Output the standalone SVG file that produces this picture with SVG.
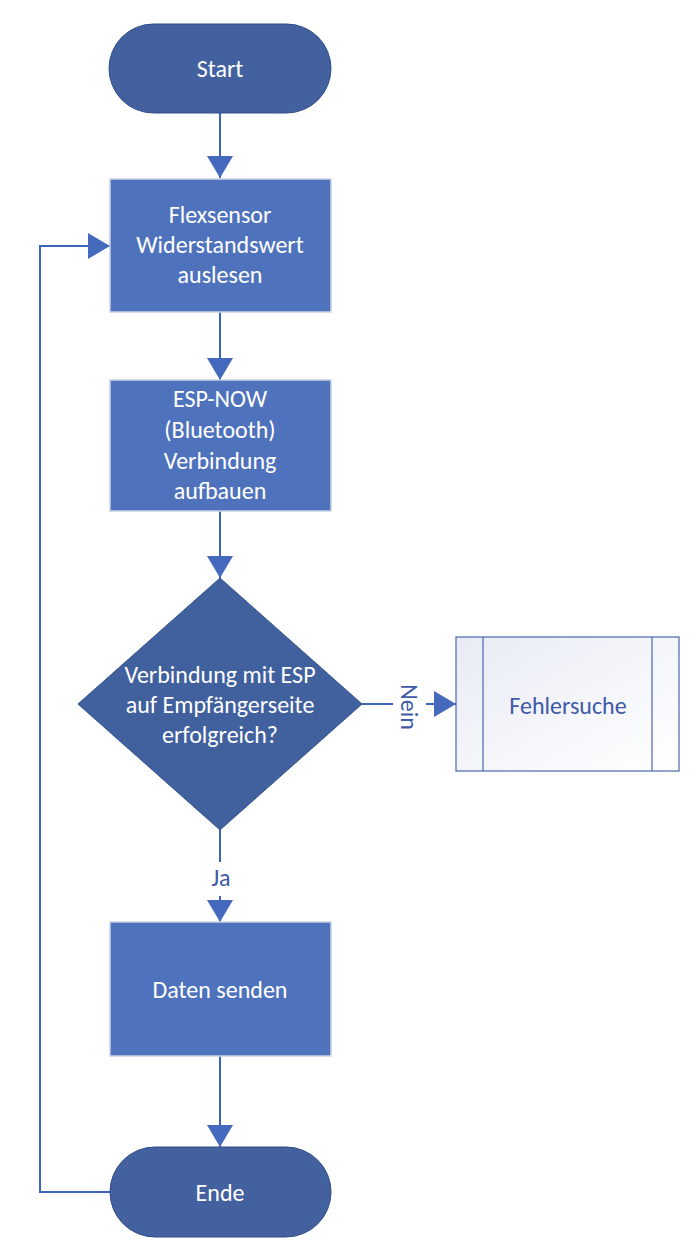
<svg xmlns="http://www.w3.org/2000/svg" width="698" height="1256" viewBox="0 0 698 1256">
<style>
.term{fill:#43609f;stroke:#2f4d8a;stroke-width:1}
.proc{fill:#4f72bd;stroke:#c9d1e3;stroke-width:1.5}
.dec{fill:#41609e;stroke:#3a5690;stroke-width:1}
.wt{font-family:Carlito,Lato,"Liberation Sans",sans-serif;font-size:24px;fill:#ffffff;text-anchor:middle}
.bt{font-family:Carlito,Lato,"Liberation Sans",sans-serif;font-size:24px;fill:#3f5aa8;text-anchor:middle}
.ln{fill:none;stroke:#3d63bd;stroke-width:2}
</style>
<defs>
<marker id="ah" viewBox="0 0 22 26" refX="22" refY="13" markerWidth="22" markerHeight="26" markerUnits="userSpaceOnUse" orient="auto">
<path d="M0,0 L22,13 L0,26 Z" fill="#4569bd"/>
</marker>
<linearGradient id="lg" x1="0" y1="0" x2="1" y2="1">
<stop offset="0" stop-color="#e8ebf5"/>
<stop offset="1" stop-color="#ffffff"/>
</linearGradient>
</defs>
<g id="connectors">
<path class="ln" d="M220,113 V178" marker-end="url(#ah)"/>
<path class="ln" d="M220,312 V380" marker-end="url(#ah)"/>
<path class="ln" d="M220,511 V578" marker-end="url(#ah)"/>
<path class="ln" d="M362,704 H393"/>
<path class="ln" d="M426,704 H456" marker-end="url(#ah)"/>
<text class="bt" transform="translate(401,707) rotate(90)">Nein</text>
<path class="ln" d="M220,830 V862"/>
<path class="ln" d="M220,896 V922" marker-end="url(#ah)"/>
<text class="bt" x="221" y="886">Ja</text>
<path class="ln" d="M220,1056 V1147" marker-end="url(#ah)"/>
<path class="ln" d="M110,1192 H40 V246 H110" marker-end="url(#ah)"/>
</g>
<g id="start">
<rect class="term" x="109" y="24" width="222" height="89" rx="44.5"/>
<text class="wt" x="220" y="77">Start</text>
</g>
<g id="flexsensor">
<rect class="proc" x="110" y="179" width="221" height="133"/>
<text class="wt" x="220" y="223">Flexsensor</text>
<text class="wt" x="220" y="253">Widerstandswert</text>
<text class="wt" x="220" y="283">auslesen</text>
</g>
<g id="espnow">
<rect class="proc" x="110" y="380" width="221" height="131"/>
<text class="wt" x="220" y="407">ESP-NOW</text>
<text class="wt" x="220" y="438">(Bluetooth)</text>
<text class="wt" x="220" y="469">Verbindung</text>
<text class="wt" x="220" y="499">aufbauen</text>
</g>
<g id="decision">
<polygon class="dec" points="220,578 362,704 220,830 78,704"/>
<text class="wt" x="220" y="683">Verbindung mit ESP</text>
<text class="wt" x="220" y="713">auf Empfängerseite</text>
<text class="wt" x="220" y="743">erfolgreich?</text>
</g>
<g id="fehlersuche">
<rect x="456" y="637" width="223" height="134" fill="url(#lg)" stroke="#4a66ac" stroke-width="1.2"/>
<line x1="483" y1="637" x2="483" y2="771" stroke="#4a66ac" stroke-width="1.2"/>
<line x1="652" y1="637" x2="652" y2="771" stroke="#4a66ac" stroke-width="1.2"/>
<text class="bt" x="568" y="714">Fehlersuche</text>
</g>
<g id="daten">
<rect class="proc" x="110" y="922" width="221" height="134"/>
<text class="wt" x="220" y="998">Daten senden</text>
</g>
<g id="ende">
<rect class="term" x="110" y="1147" width="221" height="90" rx="45"/>
<text class="wt" x="220" y="1201">Ende</text>
</g>
</svg>
